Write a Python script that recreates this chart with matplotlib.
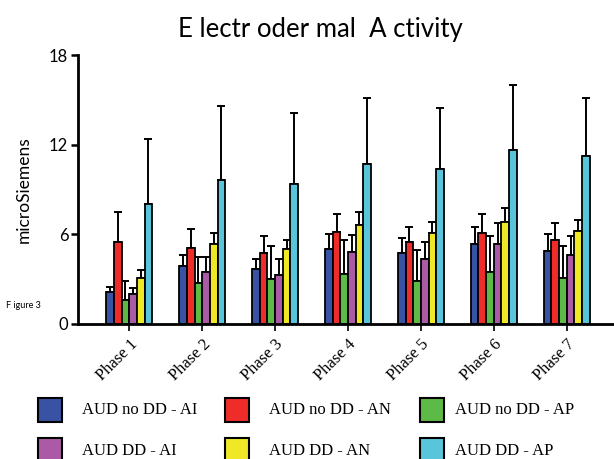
import matplotlib
matplotlib.use('Agg')
from matplotlib import pyplot as plt
from matplotlib.patches import Rectangle
import numpy as np

W, H = 614, 459

phases = ['Phase 1', 'Phase 2', 'Phase 3', 'Phase 4', 'Phase 5', 'Phase 6', 'Phase 7']
groups = ['AUD no DD - AI', 'AUD no DD - AN', 'AUD no DD - AP',
          'AUD DD - AI', 'AUD DD - AN', 'AUD DD - AP']
colors = ['#3953a4', '#ee2d2b', '#5dba46', '#ab5ba5', '#eee826', '#59c5da']

# mean per group, one value per phase
no_dd_ai = [2.13, 3.87, 3.67, 5.00, 4.78, 5.38, 4.91]
no_dd_an = [5.50, 5.10, 4.78, 6.13, 5.51, 6.11, 5.62]
no_dd_ap = [1.62, 2.75, 3.00, 3.37, 2.87, 3.47, 3.10]
dd_ai = [1.98, 3.51, 3.26, 4.80, 4.35, 5.38, 4.62]
dd_an = [3.10, 5.38, 5.00, 6.62, 6.11, 6.84, 6.24]
dd_ap = [8.00, 9.62, 9.38, 10.73, 10.37, 11.62, 11.24]

# error (upper only)
no_dd_ai_err = [0.37, 0.75, 0.68, 1.00, 0.95, 1.11, 1.09]
no_dd_an_err = [1.99, 1.25, 1.09, 1.24, 0.98, 1.26, 1.13]
no_dd_ap_err = [1.28, 1.74, 2.24, 2.23, 2.11, 2.40, 2.14]
dd_ai_err = [0.40, 0.98, 1.09, 1.13, 1.16, 1.37, 1.25]
dd_an_err = [0.52, 0.73, 0.60, 0.85, 0.73, 0.89, 0.73]
dd_ap_err = [4.35, 4.98, 4.75, 4.36, 4.10, 4.36, 3.85]

means = [no_dd_ai, no_dd_an, no_dd_ap, dd_ai, dd_an, dd_ap]
errs = [no_dd_ai_err, no_dd_an_err, no_dd_ap_err, dd_ai_err, dd_an_err, dd_ap_err]

sans = ['Lato', 'DejaVu Sans']
serif = ['Liberation Serif', 'DejaVu Serif']

fig = plt.figure(figsize=(W / 100, H / 100), dpi=100)
ax = fig.add_axes([78 / W, 1 - 324 / H, 536 / W, 269 / H])

x = np.arange(len(phases))
width = 0.105
for i, (m, e, c) in enumerate(zip(means, errs, colors)):
  pos = x + (i - 2.5) * width
  ax.bar(pos, m, width, color=c, edgecolor='black', linewidth=1.3, zorder=2)
  ax.errorbar(pos, m, yerr=[np.zeros(len(e)), e], fmt='none', ecolor='black',
              elinewidth=1.4, capsize=3, capthick=1.4, zorder=1)

ax.set_xlim(-0.704, 6.649)
ax.set_ylim(0, 18)
ax.set_yticks([0, 6, 12, 18])
ax.set_xticks(x)
ax.set_xticklabels(phases, rotation=45, ha='right', va='top',
                   rotation_mode='anchor', fontsize=12, family=serif)
for lab in ax.get_yticklabels():
  lab.set_family(sans)
  lab.set_fontsize(12)
ax.tick_params(axis='y', direction='out', length=5, width=1.8, pad=2)
ax.tick_params(axis='x', direction='out', length=5, width=1.2, pad=4)
ax.spines['top'].set_visible(False)
ax.spines['right'].set_visible(False)
ax.spines['left'].set_linewidth(2)
ax.spines['bottom'].set_linewidth(2)

fig.text(320 / W, 1 - 30 / H, 'E lectr oder mal  A ctivity', ha='center', va='center',
         fontsize=18.5, family=sans)
fig.text(24 / W, 1 - 190 / H, 'microSiemens', rotation=90, ha='center', va='center',
         fontsize=12.5, family=sans)
fig.text(6 / W, 1 - 305 / H, 'F igure 3', ha='left', va='center', fontsize=6.5, family=sans)

# legend, drawn by hand in pixel positions
sq_x = [38, 225, 420]
txt_x = [82, 269, 455]
row_y = [398, 438]
txt_y = [410, 451]
for i, (name, c) in enumerate(zip(groups, colors)):
  row, col = divmod(i, 3)
  fig.add_artist(Rectangle((sq_x[col] / W, 1 - (row_y[row] + 24) / H), 24 / W, 24 / H,
                           transform=fig.transFigure, facecolor=c, edgecolor='black',
                           linewidth=1.5))
  fig.text(txt_x[col] / W, 1 - txt_y[row] / H, name, ha='left', va='center',
           fontsize=12, family=serif)

fig.savefig('out.png', dpi=100)
